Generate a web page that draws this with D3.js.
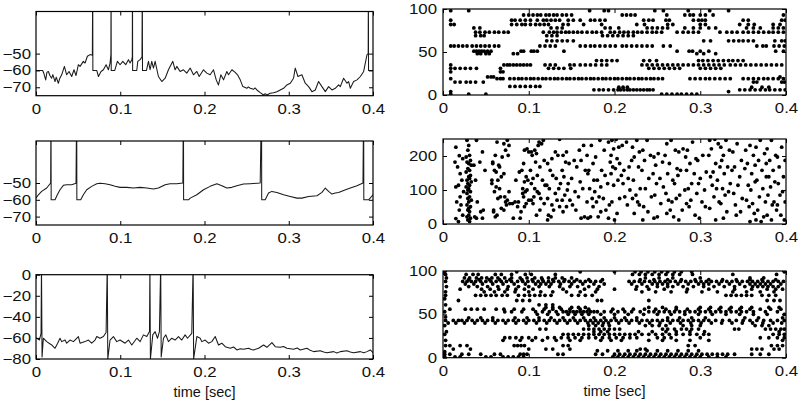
<!DOCTYPE html>
<html><head><meta charset="utf-8">
<script src="https://cdn.jsdelivr.net/npm/d3@7"></script>
<style>
body{margin:0;background:#fff}
text{font-family:"Liberation Sans",Arial,Helvetica,sans-serif}
</style>
</head><body>
<svg id="chart" width="800" height="402"></svg>
<script>
// ---------- DATA ----------
const xTicks = [0, 0.1, 0.2, 0.3, 0.4];
const xTickLabels = ["0", "0.1", "0.2", "0.3", "0.4"];
const xLabel = "time [sec]";

const v1Ticks = [-70, -60, -50];
const v1TickLabels = ["\u221270", "\u221260", "\u221250"];
const v3Ticks = [-80, -60, -40, -20, 0];
const v3TickLabels = ["\u221280", "\u221260", "\u221240", "\u221220", "0"];
const r1Ticks = [0, 50, 100];
const r2Ticks = [0, 100, 200];

// membrane potential traces: [time (s), voltage (mV)]
const trace1 = [[0,-60],[0.0079,-60],[0.0095,-62],[0.0115,-65.6],[0.013,-61],[0.0147,-60.6],[0.0165,-63],[0.0186,-64.6],[0.02,-62.5],[0.0226,-66.6],[0.024,-64],[0.0265,-67.6],[0.028,-65],[0.0305,-62.6],[0.0337,-57.6],[0.0364,-62.6],[0.0392,-60.6],[0.0424,-63.6],[0.0451,-59.6],[0.0475,-63],[0.0503,-56.6],[0.0523,-57.6],[0.0562,-54.6],[0.0582,-55.6],[0.061,-51.6],[0.0642,-50.6],[0.0669,-51],[0.0673,0],[0.0675,-60],[0.0721,-60],[0.0741,-63.6],[0.0772,-60.6],[0.08,-59.6],[0.0832,-56.6],[0.0859,-59.6],[0.0879,-55.6],[0.0889,-50.5],[0.0891,0],[0.0893,-60],[0.0935,-60],[0.0966,-54.6],[0.0998,-56.6],[0.103,-54.6],[0.1065,-56.6],[0.1097,-53.6],[0.1117,-55.6],[0.1137,-53.6],[0.1143,-52],[0.1145,0],[0.1147,-60],[0.1196,-60],[0.1208,-54.6],[0.1236,-53.6],[0.1258,-52],[0.1262,0],[0.1264,-60],[0.1311,-60],[0.1335,-54.6],[0.1354,-59.6],[0.1374,-54.6],[0.1394,-58.6],[0.1414,-54.6],[0.1453,-63.6],[0.1493,-66.6],[0.1533,-64.6],[0.1572,-59.6],[0.1624,-54.6],[0.1651,-59.6],[0.1671,-57.6],[0.1711,-60.6],[0.175,-59.6],[0.179,-61.6],[0.183,-58.6],[0.1869,-62.6],[0.1909,-60.6],[0.1937,-63.6],[0.1988,-59.6],[0.2028,-61.6],[0.2067,-62.6],[0.2107,-59.6],[0.2139,-65.6],[0.2166,-68.6],[0.2194,-62.6],[0.2226,-65.6],[0.2265,-60.6],[0.2285,-62.6],[0.2325,-59.6],[0.2364,-61.2],[0.2392,-62.6],[0.2424,-65.6],[0.2455,-69.6],[0.2503,-70.6],[0.252,-69.8],[0.2543,-70.6],[0.2582,-71.2],[0.26,-70.4],[0.2622,-71.6],[0.2661,-73.2],[0.2701,-74.6],[0.272,-73.8],[0.2741,-74.6],[0.278,-73.6],[0.282,-73.2],[0.2859,-72.6],[0.2899,-71.6],[0.2939,-70.6],[0.2978,-68.6],[0.3018,-67.6],[0.3057,-64.6],[0.3077,-58.6],[0.3109,-63.6],[0.3156,-62.6],[0.3196,-67.6],[0.3236,-69.6],[0.3275,-72.6],[0.3315,-71.6],[0.3354,-66.6],[0.3394,-69.6],[0.3434,-72.6],[0.3473,-69.6],[0.3513,-71.6],[0.3552,-70.6],[0.3592,-68.6],[0.3612,-69.6],[0.3651,-64.6],[0.3691,-67.6],[0.3711,-66.6],[0.3731,-70.6],[0.377,-66.6],[0.381,-65.6],[0.385,-63.6],[0.3889,-60.6],[0.3929,-50.6],[0.3943,-50],[0.3945,0],[0.3947,-60],[0.4,-60]];

const trace2 = [[0,-59],[0.0028,-57],[0.0067,-55],[0.0127,-53],[0.0174,-50],[0.0178,0],[0.018,-60],[0.0226,-60],[0.0253,-57],[0.0285,-54],[0.0325,-51.4],[0.0364,-51],[0.0424,-51],[0.0475,-50.2],[0.0483,0],[0.0485,-60],[0.0531,-60],[0.0562,-57],[0.0602,-54],[0.0661,-52],[0.0721,-50.5],[0.076,-50.2],[0.082,-50.5],[0.0879,-51],[0.0939,-52],[0.0998,-52.6],[0.1077,-52.6],[0.1156,-53],[0.1236,-52.6],[0.1315,-53],[0.1394,-53.6],[0.1453,-53],[0.1533,-51],[0.1592,-50.4],[0.1671,-50.4],[0.1743,-50],[0.175,0],[0.1752,-60],[0.181,-60],[0.183,-59],[0.1909,-57],[0.1988,-54],[0.2067,-52],[0.2147,-50.5],[0.2206,-51.6],[0.2265,-53],[0.2325,-52.6],[0.2384,-51.6],[0.2463,-50.6],[0.2543,-50.4],[0.2661,-50],[0.2677,0],[0.2679,-60],[0.2721,-60],[0.276,-56],[0.28,-55],[0.2859,-55.6],[0.2939,-57],[0.3018,-58],[0.3097,-59],[0.3156,-59],[0.3236,-58],[0.3335,-57.6],[0.3394,-55.6],[0.3434,-53],[0.3473,-55],[0.3513,-56.6],[0.3552,-56],[0.3592,-55.6],[0.3651,-54.4],[0.3731,-53],[0.381,-51.6],[0.3881,-50],[0.3889,0],[0.3891,-60],[0.3948,-60],[0.4,-57]];

const trace3 = [[0,-59.7],[0.004,-62],[0.006,-55.6],[0.0065,10],[0.0072,-78],[0.0087,-60.3],[0.0127,-63.5],[0.0186,-66.7],[0.0226,-69.8],[0.0257,-65],[0.0285,-60.3],[0.0305,-63.5],[0.0345,-62],[0.0364,-65],[0.0404,-62],[0.0444,-63.5],[0.0503,-58.7],[0.0523,-65],[0.0582,-63.5],[0.0622,-62],[0.0661,-65],[0.0701,-62],[0.0721,-58.7],[0.076,-60.3],[0.08,-58.7],[0.0832,-54.9],[0.0846,10],[0.0852,-80],[0.0879,-62],[0.0919,-58.7],[0.0958,-63.5],[0.0998,-62],[0.1057,-65],[0.1097,-62],[0.1137,-66.7],[0.1196,-60.3],[0.1236,-63.5],[0.1275,-57.1],[0.1315,-58.7],[0.1347,-54],[0.1352,10],[0.1358,-80],[0.1386,-57.1],[0.1414,-54],[0.1442,-60.3],[0.1465,-54],[0.148,10],[0.1486,-78],[0.1513,-60.3],[0.1541,-57.1],[0.1572,-63.5],[0.1612,-60.3],[0.1651,-62],[0.1691,-58.7],[0.173,-62],[0.177,-57.1],[0.1798,-60.3],[0.1849,-55.6],[0.1865,10],[0.1871,-80],[0.1909,-58.7],[0.1949,-60.3],[0.1968,-63.5],[0.2008,-62],[0.2048,-65],[0.2087,-63.5],[0.2127,-58.7],[0.2166,-66.7],[0.2206,-65],[0.2246,-68.3],[0.2305,-69.8],[0.2345,-68.6],[0.2384,-71.4],[0.2425,-70.2],[0.2463,-70.8],[0.2523,-69.8],[0.2555,-70.9],[0.2582,-71.4],[0.2642,-69.8],[0.2701,-66.7],[0.2741,-68.9],[0.28,-64.4],[0.284,-68.3],[0.2899,-68.9],[0.2938,-68.1],[0.2978,-69.8],[0.3057,-70.8],[0.31,-69.6],[0.3137,-71.4],[0.3216,-69.8],[0.3255,-71.8],[0.3295,-73],[0.3374,-72.1],[0.3415,-73.3],[0.3453,-74],[0.3533,-73],[0.3572,-74.2],[0.3612,-73],[0.3691,-72.1],[0.373,-73.4],[0.377,-74],[0.385,-73],[0.389,-74.1],[0.3929,-73],[0.3968,-71.4],[0.4,-74]];

// raster 1: [neuron index, spike times (ms)]
const raster1 = [
 [98,[9,30,171,188,193,247,257,286,311,333]],
 [93,[94,100,105,110,114,120,124,129,133,139,144,150,209,214,219,224,261,282,288,292,300,306,315,397]],
 [87,[9,80,84,90,96,102,110,117,121,126,131,136,146,152,160,172,177,183,189,234,240,245,260,264,292,298,302,306,350,356,395,399]],
 [82,[9,13,80,86,92,96,102,108,113,118,123,140,146,164,185,226,235,262,268,300,306,346,356,363,385,393]],
 [78,[36,43,126,133,139,189,195,205,238,244,250,256,262,282,292,300,310,318,354,362,370,385,391,397]],
 [73,[38,43,49,54,60,65,71,76,117,124,129,133,138,143,147,152,157,162,168,174,179,185,195,200,206,211,216,222,227,232,238,244,249,255,273,280,286,292,298,323,331,337,343,350,356,362,368,374,380,385,391,397]],
 [69,[38,44,48,121,127,133,186,192,198,204,210,216,222]],
 [63,[121,127,133,139,145,152,304,312,333,339,345,350,356,362,387,395,399]],
 [57,[9,13,18,23,28,34,39,44,49,54,60,65,113,119,125,131,160,166,172,177,183,189,195,201,209,214,220,226,232,238,244,257,265,366,373,377,386,392,398]],
 [51,[36,39,42,45,48,52,56,91,94,103,106,110,141,273,287,291,300,310,388,397]],
 [48,[40,44,50,54,82,87,296,304,318]],
 [40,[179,185,191,197,203,234,241,249,298,303,309,315,321,327,333,338,344,350]],
 [35,[9,71,75,78,82,86,90,94,98,102,119,125,131,148,153,160,166,172,178,185,191,232,238,244,250,256,262,268,274,280,286,292,298,304,310,316,322,328,335,341,347,353,359,365,371,377,383,389,395]],
 [31,[9,14,20,26,32,39,67,123,129,135,141,149,240,246,252,258,264,270,276,300,306,312,318,324]],
 [27,[9,67,70]],
 [21,[52,56,59,393]],
 [19,[9,63,67,70,78,83,88,92,97,102,106,111,116,120,125,130,134,139,144,148,153,158,162,167,172,176,181,186,190,195,200,204,209,214,218,223,228,232,237,242,246,251,256,288,294,300,306,311,317,323,329,335,350,356,362,368,374,379,385,391,397]],
 [15,[14,20,27,32,38,47,362,366,395,398]],
 [10,[78,84,90,96,102,108,113]],
 [9,[205,210,215,360,372,380]],
 [6,[176,182,187,193,199,204,207,211,215,218,222,226,230,234,238,241,245,346,352,358,364,370,376,381,387,393,399]],
 [4,[9,333]],
 [1,[9,30,50,255,261,267,273,278,284,290,296]]
];

// raster 2: [spike time (ms), neuron index]
const raster2 = [[15,226],[19,201],[14,182],[17,168],[18,114],[15,109],[20,80],[16,65],[19,41],[15,16],[18,7],
[23,192],[20,148],[22,129],[24,95],[21,56],[23,26],
[28,246],[30,231],[29,217],[31,202],[27,197],[32,187],[28,182],[30,178],[33,173],[29,163],[31,158],[27,153],[32,143],[30,139],[28,129],[33,124],[29,119],[31,114],[27,109],[30,104],[32,95],[28,90],[31,80],[29,75],[33,70],[30,65],[28,56],[32,51],[29,41],[31,36],[30,26],[28,21],[32,17],[29,12],[31,7],[30,46],[29,100],[31,134],
[39,246],[36,173],[38,129],[40,65],[37,21],[39,17],
[46,212],[43,182],[47,41],[44,36],[46,17],[49,158],
[63,241],[58,178],[66,168],[60,158],[68,139],[64,129],[57,119],[62,109],[67,80],[59,41],[61,202],[69,197],[58,182],[65,173],[62,153],[57,129],[66,104],[60,95],[64,75],[68,46],[59,36],[63,26],[61,21],
[75,246],[71,236],[77,231],[73,217],[76,202],[71,148],[77,95],[72,80],[75,70],[73,65],[78,60],[74,56],[71,41],
[84,65],[81,60],[87,51],[82,17],[85,129],
[92,158],[89,153],[93,90],[88,65],[91,36],[90,17],
[98,221],[95,217],[100,212],[94,178],[97,139],[99,129],[95,124],[93,104],[98,100],[96,95],[94,80],[100,70],[97,60],[95,51],
[107,217],[103,212],[109,207],[104,202],[108,182],[102,158],[110,143],[105,134],[103,119],[107,104],[110,95],[106,80],[103,70],[105,60],[109,26],
[117,246],[112,241],[115,236],[111,231],[118,187],[113,168],[116,129],[119,114],[112,90],[114,75],[118,60],[113,41],
[127,192],[122,178],[125,158],[128,143],[121,114],[124,104],[122,75],[127,56],[129,41],[123,26],[126,21],[122,12],
[136,249],[131,212],[134,202],[132,134],[137,119],[135,104],[131,90],[133,70],[136,51],
[144,212],[140,202],[143,182],[139,158],[141,139],[145,100],[142,85],[139,70],[144,51],[140,36],
[153,187],[147,178],[156,168],[150,134],[146,119],[154,95],[148,70],[151,56],[155,41],
[164,231],[159,217],[161,187],[166,158],[160,124],[163,104],[158,80],[165,21],[161,17],
[173,231],[168,202],[175,178],[170,158],[169,148],[176,129],[171,104],[174,75],[168,65],[175,51],[172,21],[169,17],
[183,246],[178,197],[185,158],[180,129],[184,109],[177,95],[182,80],[179,65],[184,36],[181,21],
[193,241],[188,217],[195,182],[189,143],[192,119],[187,75],[194,56],[190,41],[193,17],
[202,249],[197,246],[205,226],[199,221],[196,202],[203,192],[206,178],[198,168],[201,163],[196,148],[204,129],[199,114],[206,75],[197,65],[203,31],[200,12],
[214,241],[209,231],[217,168],[211,158],[208,143],[216,134],[210,119],[218,100],[212,80],[215,56],
[226,246],[221,226],[229,212],[223,197],[220,187],[228,168],[222,129],[230,104],[225,85],[221,75],[227,65],[229,56],[223,31],
[238,246],[233,217],[242,202],[235,187],[232,158],[240,134],[236,104],[243,80],[234,51],[239,36],[233,12],
[251,207],[246,197],[256,182],[248,173],[245,148],[253,134],[249,119],[257,109],[247,85],[254,60],[250,21],[246,17],
[266,246],[261,236],[271,217],[259,202],[264,178],[273,163],[262,148],[268,129],[270,119],[260,90],[272,75],[263,70],[267,65],[265,41],[261,31],[269,21],
[280,221],[275,212],[283,197],[277,158],[274,143],[282,100],[276,85],[284,60],[279,41],[275,12],
[291,241],[285,217],[295,192],[288,178],[284,158],[293,148],[290,119],[286,104],[296,90],[289,70],[287,51],[294,26],
[303,202],[297,187],[307,153],[300,134],[298,119],[305,100],[302,65],[306,51],[299,17],
[317,249],[311,246],[321,236],[313,221],[310,202],[318,178],[323,168],[315,153],[312,139],[320,129],[314,114],[319,104],[316,80],[322,65],[311,46],[318,12],
[330,246],[324,226],[334,217],[327,202],[325,187],[332,168],[328,148],[335,119],[326,104],[333,95],[329,85],[324,60],[331,36],[327,17],
[343,236],[338,212],[348,187],[340,168],[337,158],[346,139],[344,114],[339,90],[349,75],[341,56],[347,36],[342,26],
[358,231],[353,217],[362,202],[355,178],[352,163],[360,148],[364,124],[356,114],[359,100],[354,70],[361,60],[357,51],[363,31],[358,7],
[370,246],[365,226],[375,207],[368,187],[364,173],[372,158],[377,139],[366,129],[373,104],[369,80],[376,65],[367,41],[374,21],[365,12],[371,7],
[383,246],[378,221],[388,202],[381,187],[377,178],[385,158],[380,139],[387,124],[382,109],[379,85],[386,65],[384,56],[389,41],[378,26],[383,12],
[395,226],[390,197],[399,187],[392,168],[397,139],[391,119],[396,95],[393,85],[399,65],[390,56],[394,26],[398,12]];

// raster 3: [neuron index, spike times (ms)]
const raster3 = [
 [99,[2,86,160,200,224,231,239,247,255,262,270,278,290,398]],
 [96,[3,27,35,41,61,68,80,96,103,131,221,229,236,244,252,260,268,276,291,338,389]],
 [92,[4,25,31,39,45,51,57,64,72,80,90,98,107,115,123,131,139,150,236,252,268,300,358,374]],
 [90,[30,42,54,66,78,92,104,116,128,142,156,170,186,230,246,262,278,294,310,326,342,358,372,388]],
 [88,[3,23,28,33,38,44,50,56,62,68,74,80,87,93,99,105,111,117,123,129,135,141,147,153,160,166,172,178,184,217,223,229,235,241,247,253,259,265,271,277,283,289,295,301,307,313,319,325,331,337,343,349,355,361,367,373,379,385,391,397]],
 [85,[26,36,46,58,70,83,96,108,114,120,126,137,150,163,176,188,220,232,244,250,256,262,274,286,298,304,310,322,334,346,358,364,370,376,382,394]],
 [82,[4,30,40,52,64,76,88,100,112,124,136,148,157,170,182,226,238,250,262,268,280,292,304,316,328,340,352,361,367,373,379,385,391]],
 [79,[20,45,55,65,75,85,95,105,140,165,180,200,225,240,258,285,310,340,360,378,388,396]],
 [76,[3,48,60,72,84,100,114,128,144,160,178,232,248,266,284,302,320,338,354,370,386]],
 [72,[3,38,44,50,56,62,69,75,88,95,101,107,113,119,126,150,158,166,174,330,336,342,348,354,360,372,380,388]],
 [68,[2]],
 [66,[18,86,93,101,180,185,240,378,386,393]],
 [61,[3,112,120,128]],
 [58,[120,128,136,150,158,166,240,256,272,300,312,324,336,348,360,380,392]],
 [56,[8,26,33,40,48,62,71,83,94,105,118,128,138,148,160,170,198,210,222,235,248,260,272,285,298,310,322,334,346,358,370,382,394]],
 [53,[2,72,80,92,108,116,124,132,140,144,148,152,156,160,164,168,172,176,180,188,196,204,212,220,230,240,246,252,258,264,270,276,282,288,294,300,306,312,318,324,330,336,342,348,354,362,376,390]],
 [50,[110,122,134,146,154,162,170,184,200,216,234,250,266,282,298,314,330,346,362,378,398]],
 [47,[3]],
 [46,[30,44,58,84,98,112,126,140,152,164,176,188,200,212,226,262,276,290,306,352,368,396]],
 [43,[3,12,18,22,28,34,40,46,52,58,64,70,76,82,88,94,100,106,112,118,124,130,136,142,148,154,160,166,172,178,184,190,196,202,208,214,220,226,232,238,244,250,256,262,268,274,280,286,292,298,304,310,318,326,334,342,350,358,366,374,382,390,398]],
 [40,[6,15,25,37,49,61,73,85,97,109,121,133,145,157,169,175,181,187,193,205,217,229,241,253,265,277,289,301,313,325,337,349,361,373,385,395]],
 [37,[2,170,178,186,194,236,244,252,260,280,290,300,364,372,380]],
 [33,[113,120,164,170,176,182,188,194,200,206,256,262,270,278,284,290,298,340,345,376,382,388,394,398]],
 [30,[4,176,184,192,228,244,260,272,288,305,392]],
 [27,[2,140,146,152,158,164,170,176,182,188,194,200,206,212,218,224,232,240,248,256,264,272,280,288,296,304,310,385,392,398]],
 [23,[72,78,85,92,100,108,122,130,138,146,154,162,170,178,186,194,202,210,218,226,250,258,266,300,370,380,390,398]],
 [20,[3,70,90,104,116,132,148,160,184,196,208,240,256,272,288,310,396]],
 [14,[3,8,20,28,83,87,91,95,140,146,286,294,383,390,396]],
 [10,[12,32,100,120,128,148,230,236,360,366,372,386,392]],
 [8,[180,192,204,216,226,238,250,262,274,286,298]],
 [7,[2]],
 [4,[2,8,22,30,44,60,67,90,94,98,134,140,178,186,200,206,212,218,224,230,236,242,248,254,260,266,272,278,284,290,296,302,308,314,320,326,332,340,360,370,380]],
 [1,[2,14,20,50,56,70,76,82,88,94,198,204,210,216,222,228,234,240,246,252,258,264,270,276,282,288,294,300,310,320,330]]
];

// ---------- DRAW ----------
const svg = d3.select("#chart");
const FONT = 14;

function panel(cfg, id) {
  const x = d3.scaleLinear().domain([0, 0.4]).range([cfg.x0, cfg.x1]);
  const y = d3.scaleLinear().domain(cfg.yDomain).range([cfg.y1, cfg.y0]);
  const g = svg.append("g");
  g.append("clipPath").attr("id", "clip" + id).append("rect")
    .attr("x", cfg.x0).attr("y", cfg.y0).attr("width", cfg.x1 - cfg.x0).attr("height", cfg.y1 - cfg.y0);
  const plot = g.append("g").attr("clip-path", `url(#clip${id})`);

  if (cfg.trace) {
    plot.append("path").datum(cfg.trace)
      .attr("fill", "none").attr("stroke", "#1a1a1a").attr("stroke-width", 1.05)
      .attr("stroke-linejoin", "round")
      .attr("d", d3.line().x(d => x(d[0])).y(d => y(d[1])));
  }
  if (cfg.points) {
    plot.selectAll("circle").data(cfg.points).join("circle")
      .attr("cx", d => x(d[0] / 1000)).attr("cy", d => y(d[1])).attr("r", 1.9).attr("fill", "#000");
  }

  const tk = 4;
  g.append("g").attr("transform", `translate(0,${cfg.y1})`)
    .call(d3.axisBottom(x).tickValues(xTicks).tickFormat((d, i) => xTickLabels[i]).tickSizeInner(-tk).tickSizeOuter(0).tickPadding(8.5));
  g.append("g").attr("transform", `translate(0,${cfg.y0})`)
    .call(d3.axisTop(x).tickValues(xTicks).tickFormat("").tickSizeInner(-tk).tickSizeOuter(0));
  g.append("g").attr("transform", `translate(${cfg.x0},0)`)
    .call(d3.axisLeft(y).tickValues(cfg.yTicks).tickFormat((d, i) => cfg.yLabels[i]).tickSizeInner(-tk).tickSizeOuter(0).tickPadding(cfg.ypad));
  g.append("g").attr("transform", `translate(${cfg.x1},0)`)
    .call(d3.axisRight(y).tickValues(cfg.yTicks).tickFormat("").tickSizeInner(-tk).tickSizeOuter(0));
  g.selectAll(".domain").remove();
  g.selectAll(".tick line").attr("stroke", "#000").attr("stroke-width", 1);
  g.selectAll(".tick text").attr("font-size", FONT).attr("fill", "#111")
    .attr("font-family", '"Liberation Sans", Arial, sans-serif');
  g.append("rect").attr("x", cfg.x0).attr("y", cfg.y0)
    .attr("width", cfg.x1 - cfg.x0).attr("height", cfg.y1 - cfg.y0)
    .attr("fill", "none").attr("stroke", "#000").attr("stroke-width", 1.2);
  if (cfg.xlabel) {
    g.append("text").attr("x", (cfg.x0 + cfg.x1) / 2).attr("y", cfg.y1 + 38)
      .attr("text-anchor", "middle").attr("font-size", FONT).attr("fill", "#111")
      .attr("textLength", 62).attr("lengthAdjust", "spacingAndGlyphs").text(xLabel);
  }
}

const flat = rows => rows.flatMap(([n, ts]) => ts.map(t => [t, n]));

const L = {x0: 36, x1: 373, ypad: 5};
const R = {x0: 443, x1: 786, ypad: 6};

panel({...L, y0: 11.5, y1: 95.7, yDomain: [-75, -25], yTicks: v1Ticks, yLabels: v1TickLabels, trace: trace1}, 1);
panel({...R, y0: 9, y1: 95, yDomain: [0, 100], yTicks: r1Ticks, yLabels: r1Ticks.map(String), points: flat(raster1)}, 2);
panel({...L, y0: 141, y1: 225, yDomain: [-75, -25], yTicks: v1Ticks, yLabels: v1TickLabels, trace: trace2}, 3);
panel({...R, y0: 139, y1: 224, yDomain: [0, 250], yTicks: r2Ticks, yLabels: r2Ticks.map(String), points: raster2}, 4);
panel({...L, y0: 274.7, y1: 359, yDomain: [-80, 0], yTicks: v3Ticks, yLabels: v3TickLabels, trace: trace3, xlabel: true}, 5);
panel({...R, y0: 271, y1: 357.7, yDomain: [0, 100], yTicks: r1Ticks, yLabels: r1Ticks.map(String), points: flat(raster3), xlabel: true}, 6);

// tick numbers in the reference are drawn noticeably wider than the font's natural width
svg.selectAll(".tick text").each(function () {
  const w = this.getComputedTextLength();
  if (w > 0) d3.select(this).attr("textLength", w * 1.2).attr("lengthAdjust", "spacingAndGlyphs");
});
</script>
</body></html>
